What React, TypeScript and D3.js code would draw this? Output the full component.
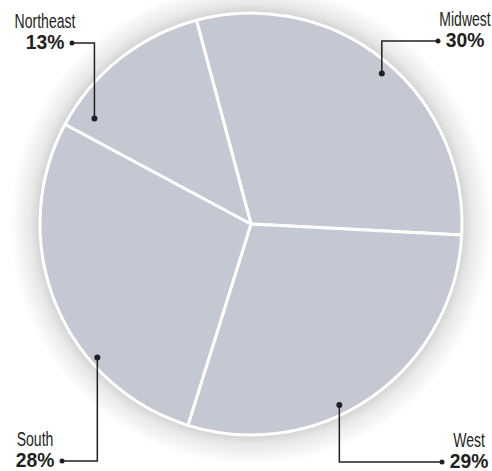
import React from "react";
import * as d3 from "d3";

const regions = ["Midwest", "West", "South", "Northeast"];
const shares = [30, 29, 28, 13];
// callout anchor inside each slice: angle (deg, clockwise from 12 o'clock) and radius fraction
const calloutAngle = [41, 154, 229, 304];
const calloutRadius = [0.945, 0.955, 0.965, 0.895];
// label placement (text center x, name baseline y) and side of the text the leader attaches to
const labelX = [465, 469, 35, 45];
const labelY = [26, 447, 446, 28];
const labelSide = ["left", "left", "right", "right"];

const W = 492;
const H = 471;
const cx = 251;
const cy = 224;
const R = 211;
const startAngle = (-15 * Math.PI) / 180;

export default function App() {
  const pie = d3
    .pie<number>()
    .sort(null)
    .value((d) => d)
    .startAngle(startAngle)
    .endAngle(startAngle + 2 * Math.PI);
  const arcs = pie(shares);
  const arc = d3.arc<d3.PieArcDatum<number>>().innerRadius(0).outerRadius(R);

  const font = "'Liberation Sans', Arial, sans-serif";

  return (
    <svg
      width={W}
      height={H}
      style={{ position: "absolute", left: 0, top: 0, background: "#fff" }}
    >
      <defs>
        <radialGradient id="glow" cx={cx} cy={cy} r={R + 30} gradientUnits="userSpaceOnUse">
          <stop offset={R / (R + 30)} stopColor="#d2d2d2" />
          <stop offset={(R + 10) / (R + 30)} stopColor="#e9e9e9" />
          <stop offset="1" stopColor="#ffffff" />
        </radialGradient>
      </defs>
      <circle cx={cx} cy={cy} r={R + 30} fill="url(#glow)" />
      <g transform={`translate(${cx},${cy})`}>
        {arcs.map((a, i) => (
          <path key={regions[i]} d={arc(a) || ""} fill="#c3c8d3" stroke="#fff" strokeWidth={3} strokeLinejoin="round" />
        ))}
      </g>
      {regions.map((name, i) => {
        const ang = (calloutAngle[i] * Math.PI) / 180;
        const px = cx + Math.sin(ang) * R * calloutRadius[i];
        const py = cy - Math.cos(ang) * R * calloutRadius[i];
        const pctY = labelY[i] + 21;
        const lineY = pctY - 6;
        const half = 21;
        const endX = labelSide[i] === "left" ? labelX[i] - half - 6 : labelX[i] + half + 6;
        return (
          <g key={name}>
            <path
              d={`M${px},${py}V${lineY}H${endX}`}
              fill="none"
              stroke="#231f20"
              strokeWidth={1.5}
            />
            <circle cx={px} cy={py} r={3} fill="#231f20" />
            <circle cx={endX} cy={lineY} r={2.5} fill="#231f20" />
            <text
              transform={`translate(${labelX[i]},${labelY[i]}) scale(0.72,1)`}
              textAnchor="middle"
              fontFamily={font}
              fontSize={19.5}
              fill="#231f20"
            >
              {name}
            </text>
            <text
              transform={`translate(${labelX[i]},${pctY}) scale(0.92,1)`}
              textAnchor="middle"
              fontFamily={font}
              fontWeight="bold"
              fontSize={21}
              fill="#231f20"
            >
              {shares[i]}%
            </text>
          </g>
        );
      })}
    </svg>
  );
}
